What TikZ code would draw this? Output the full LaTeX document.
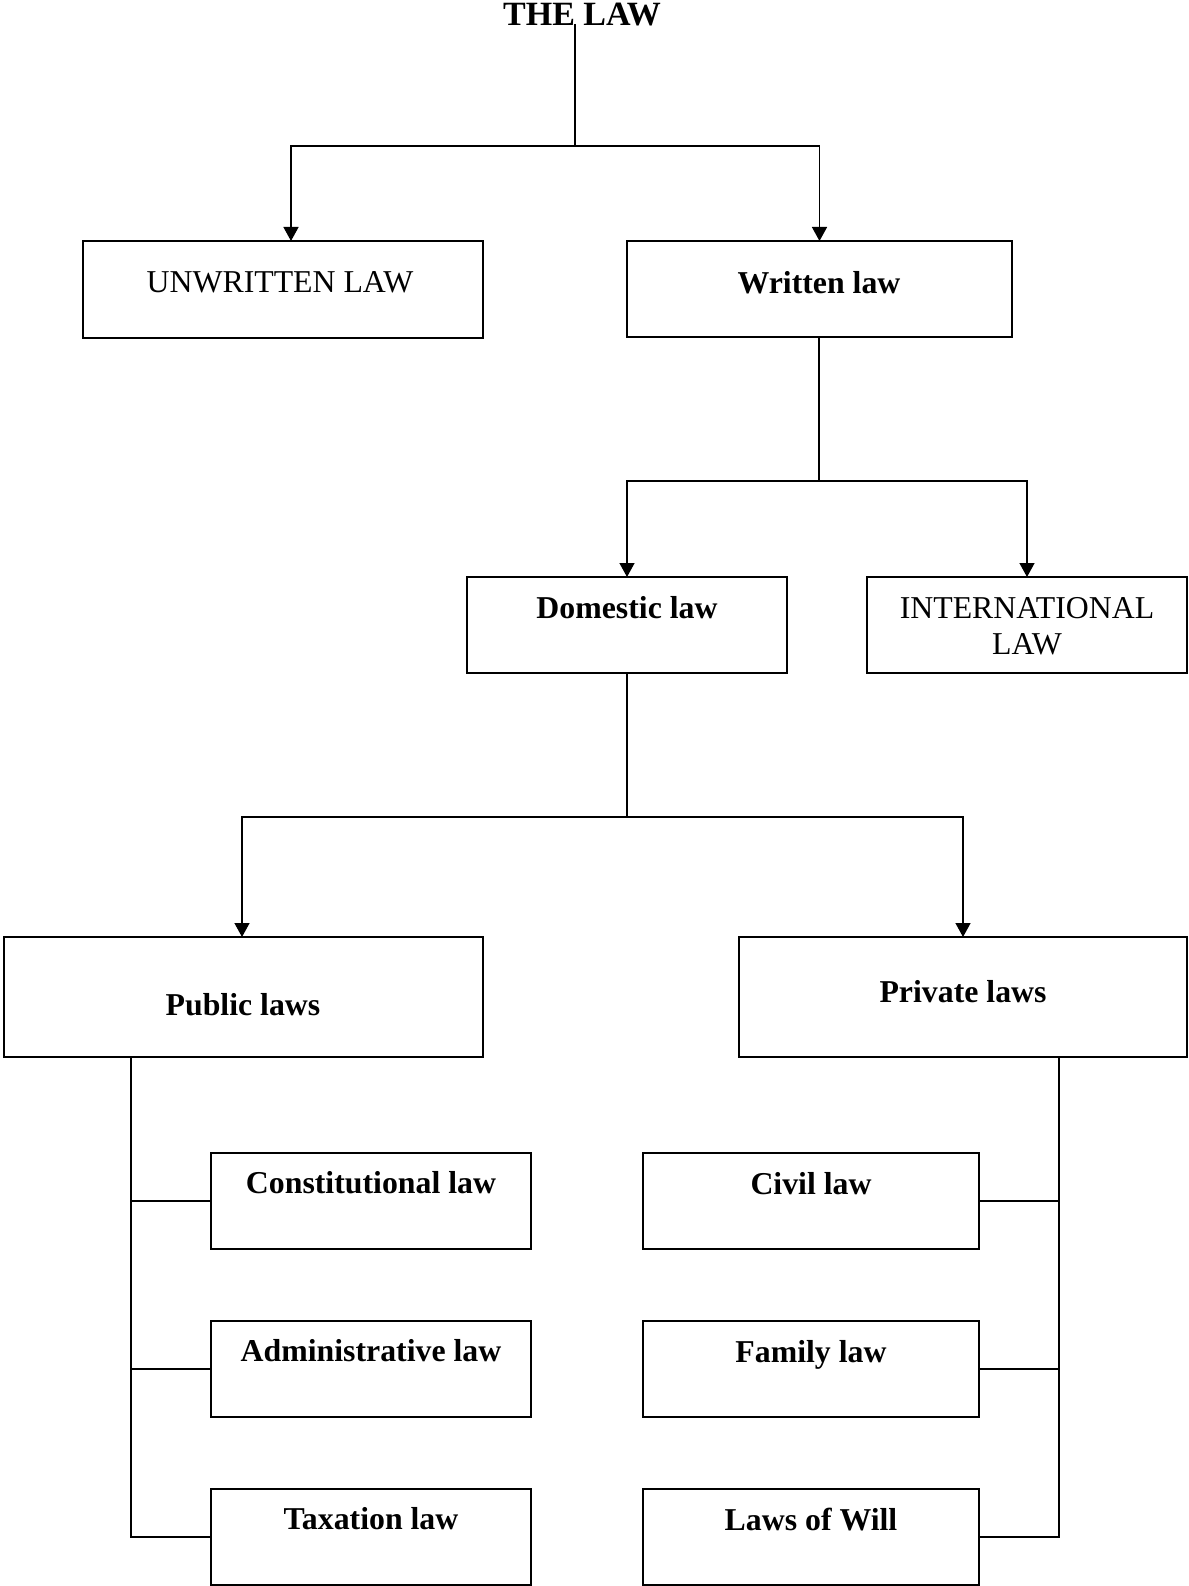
\documentclass[tikz,border=0pt]{standalone}
\usepackage{fontspec}
\setmainfont{Liberation Serif}
\usetikzlibrary{arrows.meta}
\begin{document}
\begin{tikzpicture}[x=1pt,y=-1pt,
  box/.style={draw, line width=2pt, inner sep=0pt, outer sep=0pt, rectangle},
  lbl/.style={anchor=base, inner sep=0pt, font=\fontsize{31.8}{36}\selectfont},
  blbl/.style={lbl, font=\fontsize{31.8}{36}\selectfont\bfseries},
  conn/.style={line width=1.4pt},
  arr/.style={conn, -{Triangle[width=15pt,length=14pt]}}]
\useasboundingbox (0,0) rectangle (1188,1586);

% boxes
\node[box, minimum width=400pt, minimum height=97pt] (unw) at (283,289.5) {};
\node[box, minimum width=385pt, minimum height=96pt] (wr) at (819.5,289) {};
\node[box, minimum width=320pt, minimum height=96pt] (dom) at (627,625) {};
\node[box, minimum width=320pt, minimum height=96pt] (intl) at (1027,625) {};
\node[box, minimum width=479pt, minimum height=120pt] (pub) at (243.5,997) {};
\node[box, minimum width=448pt, minimum height=120pt] (priv) at (963,997) {};
\node[box, minimum width=320pt, minimum height=96pt] (con) at (371,1201) {};
\node[box, minimum width=320pt, minimum height=96pt] (adm) at (371,1369) {};
\node[box, minimum width=320pt, minimum height=96pt] (tax) at (371,1537) {};
\node[box, minimum width=336pt, minimum height=96pt] (civ) at (811,1201) {};
\node[box, minimum width=336pt, minimum height=96pt] (fam) at (811,1369) {};
\node[box, minimum width=336pt, minimum height=96pt] (will) at (811,1537) {};

% texts
\node[blbl, font=\fontsize{34}{38}\selectfont\bfseries] (tlaw) at (582,26) {THE LAW};
\node[lbl] (tunw) at (280,293) {UNWRITTEN LAW};
\node[blbl] (twr) at (819,294) {Written law};
\node[blbl] (tdom) at (627,618) {Domestic law};
\node[lbl, anchor=north, align=center] (tintl) at (1027,597) {INTERNATIONAL\\LAW};
\node[blbl] (tpub) at (243,1015) {Public laws};
\node[blbl] (tpriv) at (963,1002) {Private laws};
\node[blbl] (tcon) at (371,1193) {Constitutional law};
\node[blbl] (tadm) at (371,1361) {Administrative law};
\node[blbl] (ttax) at (371,1529) {Taxation law};
\node[blbl] (tciv) at (811,1194) {Civil law};
\node[blbl] (tfam) at (811,1362) {Family law};
\node[blbl] (twill) at (811,1530) {Laws of Will};

% junctions
\coordinate (top) at (575,24);
\coordinate (j1) at (575,146);
\coordinate (j2) at (819,481);
\coordinate (j3) at (627,817);
\coordinate (pl) at (131,1057);
\coordinate (pr) at (1059,1057);

% connectors
\draw[conn] (top) -- (j1);
\draw[arr] (j1) -| ([xshift=8pt]unw.north);
\draw[arr] (j1) -| (wr.north);
\draw[conn] (wr.south -| j2) -- (j2);
\draw[arr] (j2) -| (dom.north);
\draw[arr] (j2) -| (intl.north);
\draw[conn] (dom.south) -- (j3);
\draw[arr] (j3) -| ([xshift=-1.5pt]pub.north);
\draw[arr] (j3) -| (priv.north);

\draw[conn] (pl) |- (tax.west);
\draw[conn] (con.west) -- (con.west -| pl);
\draw[conn] (adm.west) -- (adm.west -| pl);
\draw[conn] (pr) |- (will.east);
\draw[conn] (civ.east) -- (civ.east -| pr);
\draw[conn] (fam.east) -- (fam.east -| pr);
\end{tikzpicture}
\end{document}
